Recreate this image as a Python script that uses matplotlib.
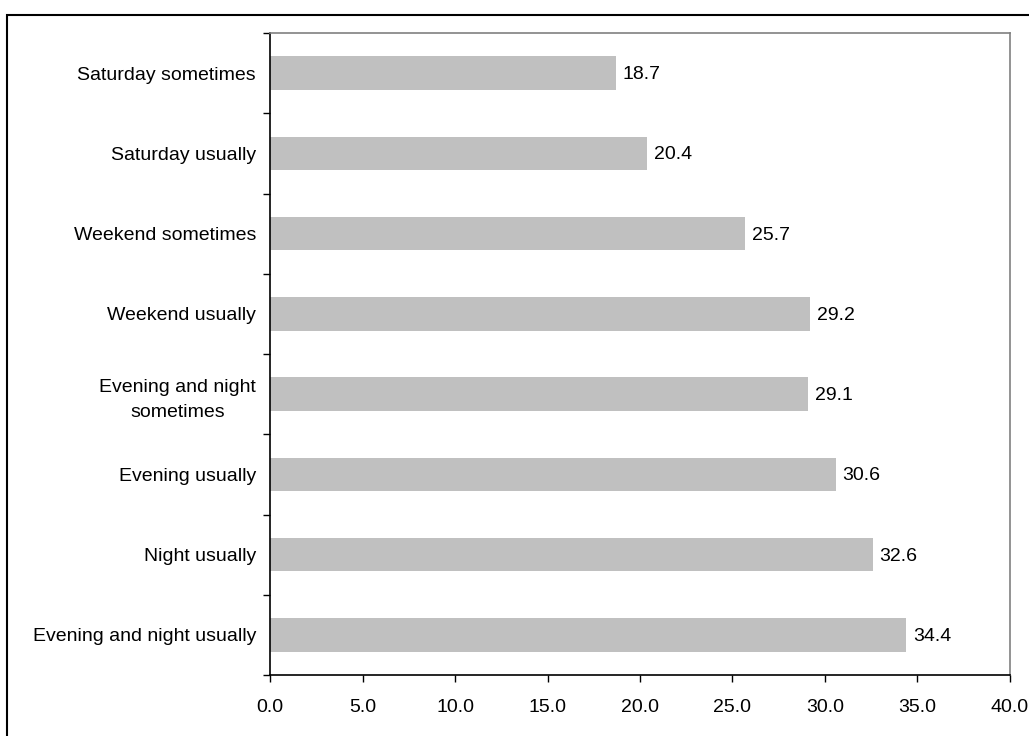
import matplotlib
matplotlib.use("Agg")
import matplotlib.pyplot as plt
from matplotlib.patches import Rectangle

# category labels, bottom to top as drawn
categories = ["Evening and night usually", "Night usually", "Evening usually",
              "Evening and night\nsometimes", "Weekend usually",
              "Weekend sometimes", "Saturday usually", "Saturday sometimes"]
values = [34.4, 32.6, 30.6, 29.1, 29.2, 25.7, 20.4, 18.7]
x_ticks = [0, 5, 10, 15, 20, 25, 30, 35, 40]

title = ("Figure 3: Atypical working hours by frequency, relative to the "
         "percentage of all the employees working")
title_prefix = "Figure 3: Atypical working hours by frequency, relative to the "

plt.rcParams['font.family'] = ['Liberation Sans', 'DejaVu Sans']

W, H = 1029, 736
fig = plt.figure(figsize=(W / 100, H / 100), dpi=100)

# chart frame, runs off the right and bottom edges
fig.patches.append(Rectangle((7 / W, -0.05), 1.1, 1 - 15 / H + 0.05,
                             transform=fig.transFigure, fill=False,
                             edgecolor="black", linewidth=1.5))

# title sits above the canvas, only its lower edge shows
renderer = fig.canvas.get_renderer()
probe = fig.text(0, 0, title_prefix + "p", fontsize=24, family="Liberation Serif",
                 style="italic", weight="bold")
w_prefix = probe.get_window_extent(renderer).width
probe.remove()
fig.text((228 - w_prefix + 10) / W, 1 + 7 / H, title, fontsize=24,
         family="Liberation Serif", style="italic", weight="bold",
         ha="left", va="baseline")

ax = fig.add_axes([270 / W, 1 - 675 / H, (1010 - 270) / W, (675 - 33) / H])
pos = list(range(len(categories)))
bars = ax.barh(pos, values, height=0.42, color="#c0c0c0", zorder=2)
for b, v in zip(bars, values):
    ax.text(v + 0.35, b.get_y() + b.get_height() / 2 - 0.02, f"{v:.1f}",
            va="center", ha="left", fontsize=14)

ax.set_xlim(0, 40)
ax.set_ylim(-0.5, len(categories) - 0.5)
ax.set_xticks(x_ticks)
ax.set_xticklabels([f"{t:.1f}" for t in x_ticks], fontsize=14)
ax.set_yticks(pos)
ax.set_yticklabels(categories, fontsize=14, multialignment="center",
                   linespacing=1.6)
ax.tick_params(axis="y", length=0, pad=10)
ax.set_yticks([p - 0.5 for p in pos] + [len(pos) - 0.5], minor=True)
ax.tick_params(axis="y", which="minor", length=5, width=1)
ax.tick_params(axis="x", length=5, width=1, pad=12)

for s in ("left", "bottom"):
    ax.spines[s].set_color("black")
    ax.spines[s].set_linewidth(1.2)
for s in ("top", "right"):
    ax.spines[s].set_color("#808080")
    ax.spines[s].set_linewidth(1.2)

fig.savefig("out.png", dpi=100)
